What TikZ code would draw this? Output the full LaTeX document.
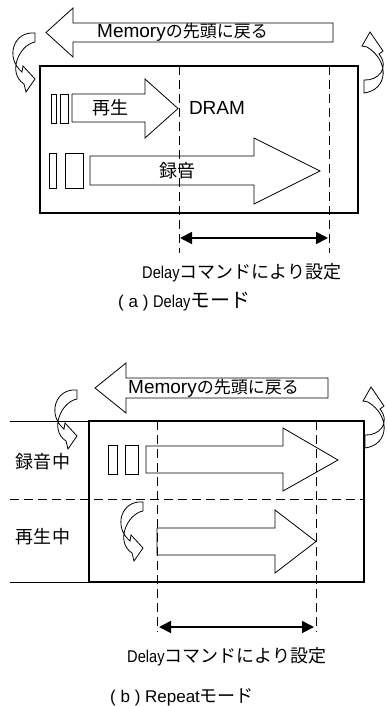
\documentclass[tikz,border=0pt]{standalone}
\usepackage{fontspec}
\usepackage{graphicx}
\setmainfont{Noto Sans CJK JP}
\newfontfamily\lat{Liberation Sans}
\usetikzlibrary{arrows.meta}
\newcommand{\delayword}{\scalebox{0.86}[1]{\lat\fontsize{17}{20}\selectfont Delay}}
\begin{document}
\begin{tikzpicture}[x=1pt,y=-1pt,
  boxframe/.style={line width=2pt},
  solidline/.style={line width=0.8pt},
  guideline/.style={line width=0.8pt, dash pattern=on 9pt off 5pt},
  blockarrow/.style={line width=0.8pt, line join=miter},
  barbox/.style={line width=0.8pt},
  spanarrow/.style={line width=1.8pt, {Triangle[length=12pt,width=12pt]}-{Triangle[length=12pt,width=12pt]}},
  txtlbl/.style={inner sep=0pt, font=\fontsize{17}{20}\selectfont},
  twistL/.pic={\filldraw[fill=white, line width=0.8pt, line join=miter]
     (0,0) .. controls (-22,-2) and (-30,25) .. (-13,39) -- (-12,33) -- (0,46)
     -- (-9,59) -- (-11,51) .. controls (-28,40) and (-16,12) .. (0,9) -- cycle;},
  twistR/.pic={\filldraw[fill=white, line width=0.8pt, line join=miter]
     (0,0) .. controls (24,-3) and (26,-32) .. (3,-46) -- (-2,-47) -- (6,-61)
     -- (19,-42) -- (15,-39) .. controls (26,-25) and (14,-12) .. (0,-13) -- cycle;}
]
\useasboundingbox (0,0) rectangle (387,706);

% ---------------- (a) Delay mode ----------------
\draw[boxframe] (40,66) rectangle (358,213);
\draw[guideline] (179,66) -- (179,253);
\draw[guideline] (329,66) -- (329,253);

% top return arrow
\draw[blockarrow, fill=white] (333,23) -- (73,23) -- (73,8) -- (46,32.5) -- (73,57) -- (73,42) -- (333,42) -- cycle;
\node[txtlbl, anchor=west] (retA) at (97,32.5) {{\lat\fontsize{19}{20}\selectfont Memory}の先頭に戻る};

% play arrow
\draw[barbox] (51,94) rectangle (56,123);
\draw[barbox] (60,94) rectangle (68,123);
\draw[blockarrow] (72,94) -- (145,94) -- (145,79) -- (178,108.5) -- (145,138) -- (145,122) -- (72,122) -- cycle;
\node[txtlbl, font=\fontsize{18}{20}\selectfont] (playA) at (110,108) {再生};
\node[txtlbl, font=\lat\fontsize{19}{20}\selectfont] (dram) at (217,108) {DRAM};

% record arrow
\draw[barbox] (49,153) rectangle (56,188);
\draw[barbox] (65,153) rectangle (83,188);
\draw[blockarrow] (90,156) -- (254,156) -- (254,138) -- (320,171) -- (254,204) -- (254,185) -- (90,185) -- cycle;
\node[txtlbl, font=\fontsize{18}{20}\selectfont] (recA) at (177,171) {録音};

% twisted arrows
\pic at (35,33) {twistL};
\pic at (364,93) {twistR};

% span
\coordinate (ra1) at (180,238);
\coordinate (ra2) at (328,238);
\draw[spanarrow] (ra1) -- (ra2);
\node[txtlbl, anchor=west, font=\fontsize{18}{20}\selectfont] (setA) at (142,273) {\delayword コマンドにより設定};
\node[txtlbl, anchor=west] (capA) at (118,302) {{\lat\fontsize{17}{20}\selectfont ( a ) }\delayword{\fontsize{20}{20}\selectfont モード}};

% ---------------- (b) Repeat mode ----------------
\draw[solidline] (10,421) -- (89,421);
\draw[solidline] (10,582) -- (89,582);
\draw[guideline] (10,499) -- (364,499);
\draw[boxframe] (89,421) rectangle (364,582);
\draw[guideline] (157,421) -- (157,632);
\draw[guideline] (316,421) -- (316,632);

% top return arrow
\draw[blockarrow, fill=white] (328,378) -- (126,378) -- (126,363) -- (95,388) -- (126,413) -- (126,398) -- (328,398) -- cycle;
\node[txtlbl, anchor=west] (retB) at (128,388) {{\lat\fontsize{19}{20}\selectfont Memory}の先頭に戻る};

% row labels
\node[txtlbl, font=\fontsize{18}{20}\selectfont] (rowRec) at (43,462) {録音中};
\node[txtlbl, font=\fontsize{18}{20}\selectfont] (rowPlay) at (43,537) {再生中};

% record arrow
\draw[barbox] (108,445) rectangle (117,474);
\draw[barbox] (125,445) rectangle (138,474);
\draw[blockarrow] (146,446) -- (283,446) -- (283,428) -- (338,460) -- (283,491) -- (283,473) -- (146,473) -- cycle;

% play arrow
\draw[blockarrow] (157,528) -- (275,528) -- (275,510) -- (316,541.5) -- (275,573) -- (275,555) -- (157,555) -- cycle;

% twisted arrows
\pic at (77,390) {twistL};
\pic at (143,502) {twistL};
\pic at (365,448) {twistR};

% span
\coordinate (rb1) at (159,627);
\coordinate (rb2) at (314,627);
\draw[spanarrow] (rb1) -- (rb2);
\node[txtlbl, anchor=west, font=\fontsize{18}{20}\selectfont] (setB) at (127,657) {\delayword コマンドにより設定};
\node[txtlbl, anchor=west] (capB) at (110,697) {{\lat\fontsize{17}{20}\selectfont ( b ) Repeat}{\fontsize{18}{20}\selectfont モード}};
\end{tikzpicture}
\end{document}
